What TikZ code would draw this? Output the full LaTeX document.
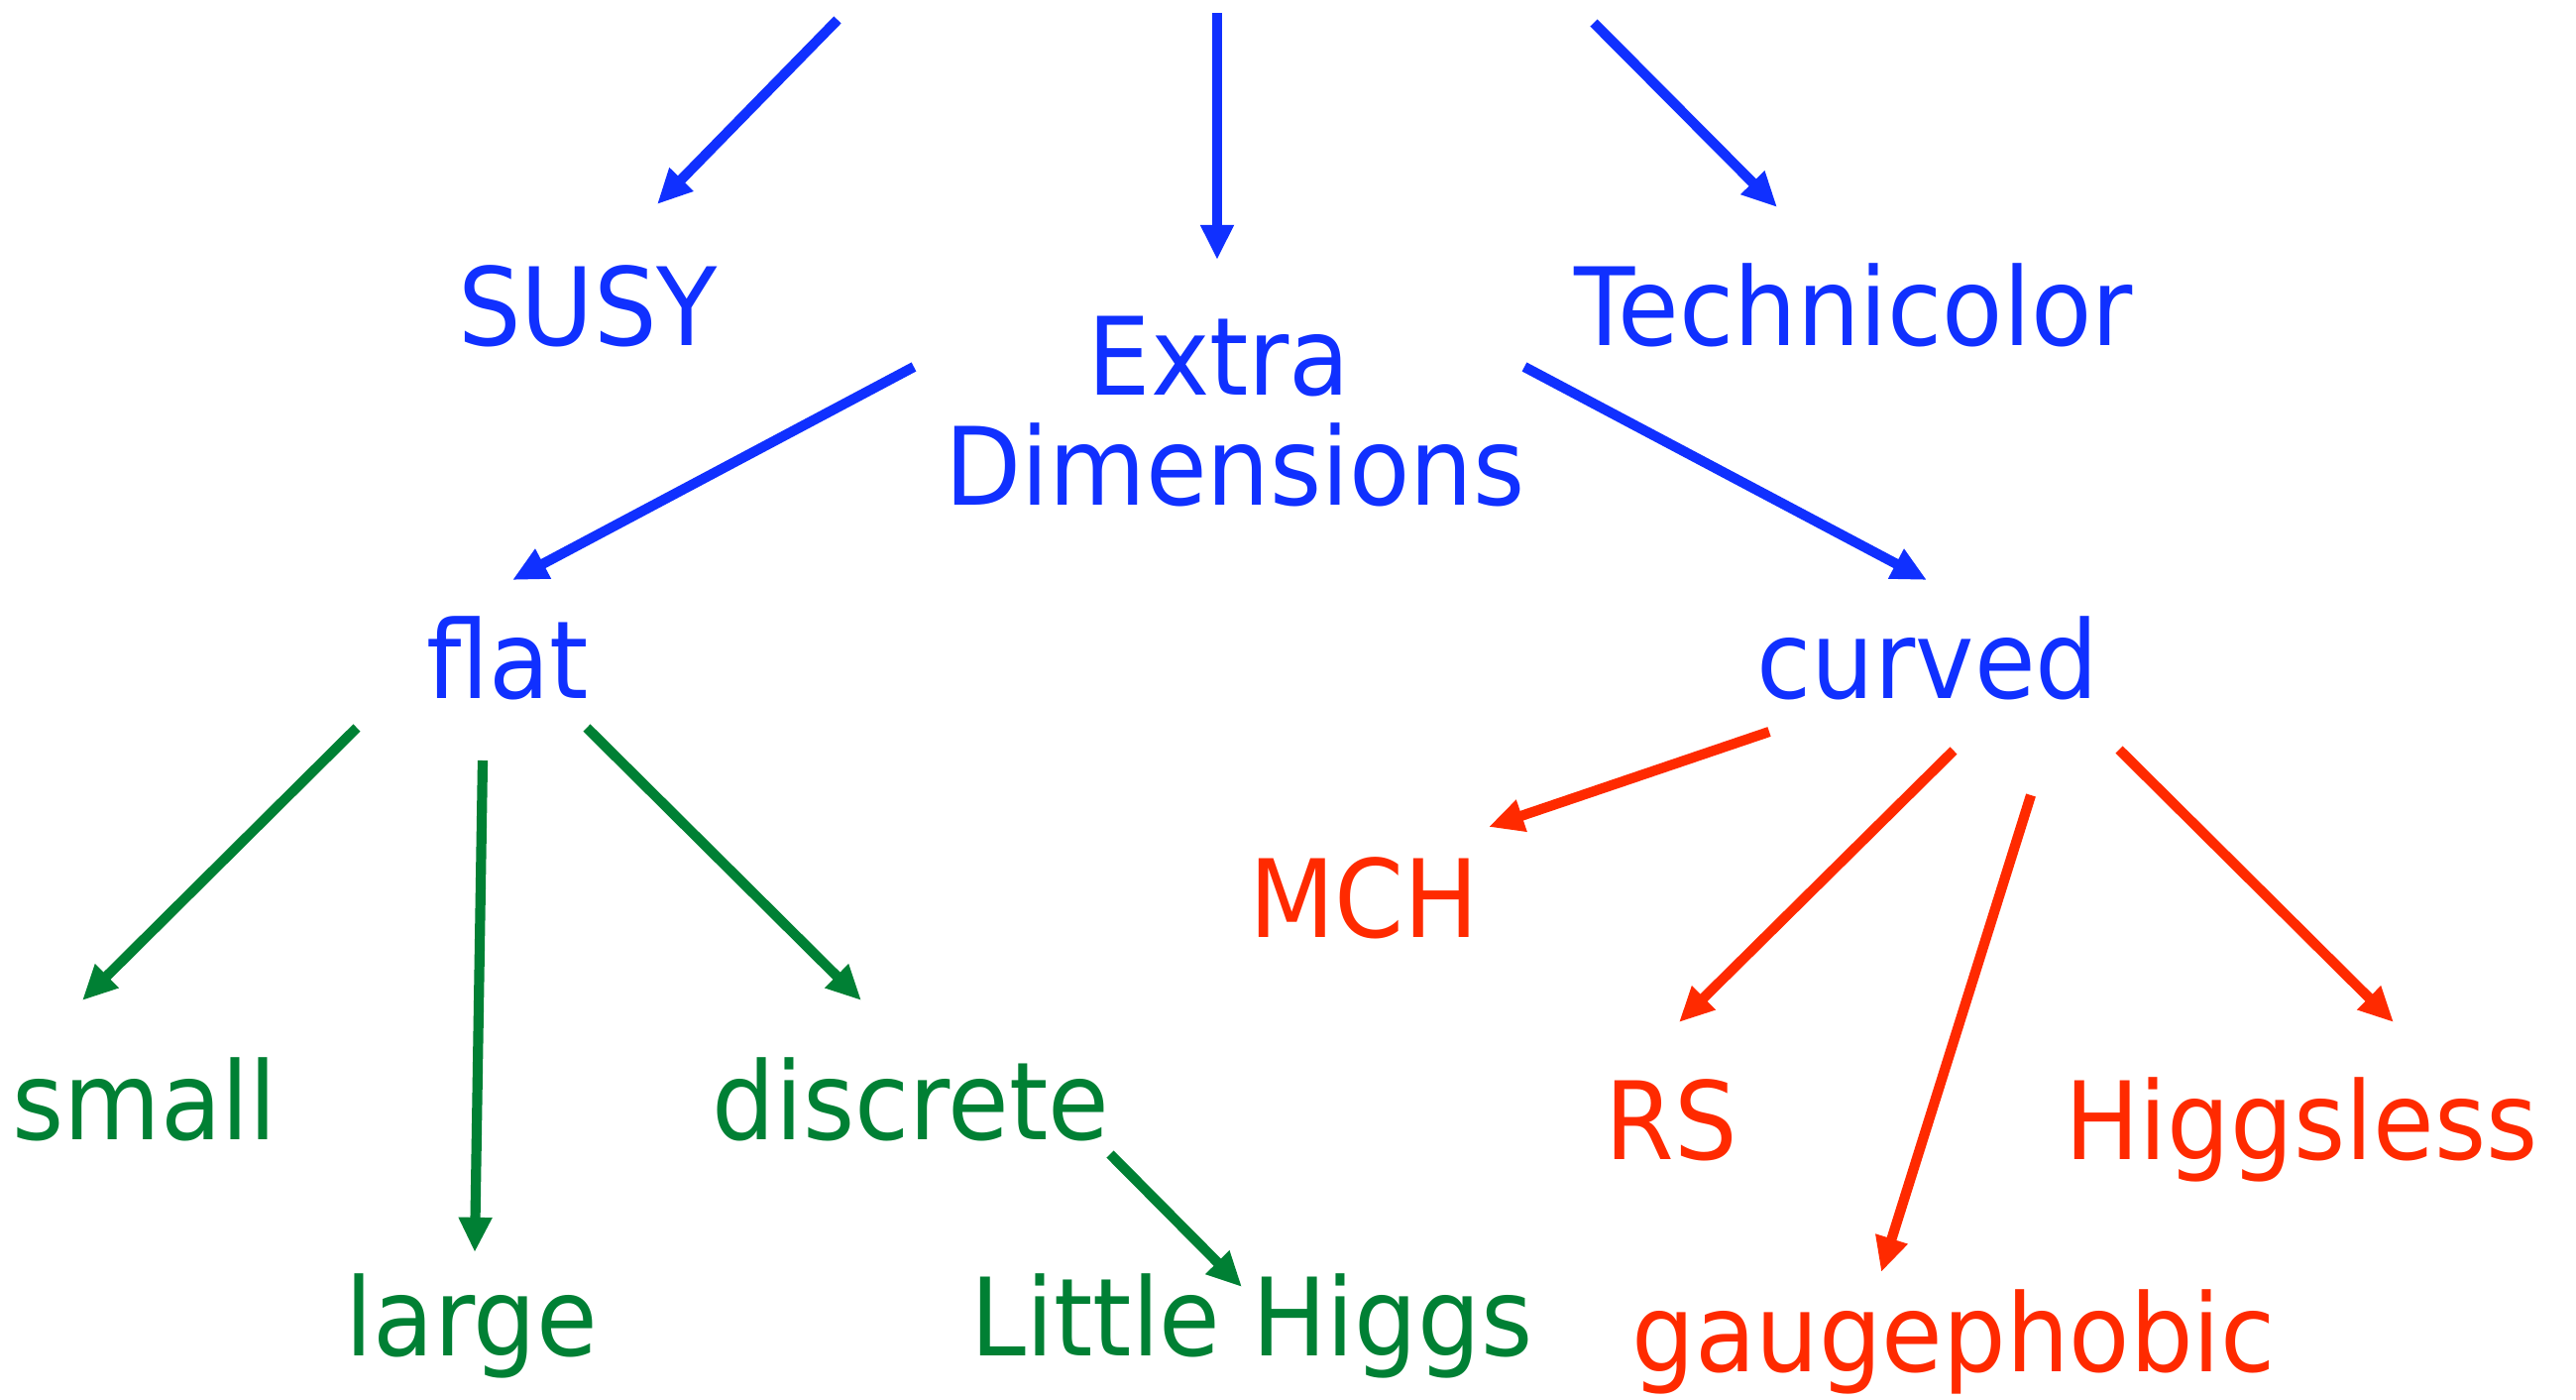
\documentclass[tikz,border=0pt]{standalone}
\usepackage{fontspec}
\setmainfont[FakeStretch=0.92]{DejaVu Sans}
\usetikzlibrary{arrows.meta}
\definecolor{cblue}{RGB}{16,48,255}
\definecolor{cgreen}{RGB}{0,128,52}
\definecolor{cred}{RGB}{255,42,0}
\begin{document}
\begin{tikzpicture}[x=0.01cm,y=-0.01cm,
  lbl/.style={anchor=base, inner sep=0pt, font=\fontsize{31}{34}\selectfont},
  arr/.style={line width=2.9pt, -{Triangle[length=10pt,width=9pt]}}]
\useasboundingbox (0,0) rectangle (2599,1412);
% nodes
\node[lbl,text=cblue] (susy) at (593,348) {SUSY};
\node[lbl,text=cblue] (extra) at (1230,398) {Extra};
\node[lbl,text=cblue] (dim) at (1246,509) {Dimensions};
\node[lbl,text=cblue] (tc) at (1870,348) {Technicolor};
\node[lbl,text=cblue] (flat) at (512,704) {flat};
\node[lbl,text=cblue] (curved) at (1945,704) {curved};
\node[lbl,text=cred] (mch) at (1376,945) {MCH};
\node[lbl,text=cgreen] (small) at (146,1149) {small};
\node[lbl,text=cgreen] (discrete) at (919,1149) {discrete};
\node[lbl,text=cred] (rs) at (1686,1169) {RS};
\node[lbl,text=cred] (hl) at (2322,1169) {Higgsless};
\node[lbl,text=cgreen] (large) at (476,1367) {large};
\node[lbl,text=cgreen] (lh) at (1263,1367) {Little Higgs};
\node[lbl,text=cred] (gp) at (1971,1383) {gaugephobic};
% connector end points
\coordinate (top1) at (845,20);   \coordinate (susy-in) at (663,206);
\coordinate (top2) at (1228,13);  \coordinate (extra-in) at (1228,262);
\coordinate (top3) at (1608,23);  \coordinate (tc-in) at (1793,209);
\coordinate (ed-l) at (922,370);  \coordinate (flat-in) at (517,585);
\coordinate (ed-r) at (1538,370); \coordinate (curved-in) at (1944,585);
\coordinate (flat-l) at (360,734); \coordinate (small-in) at (83,1009);
\coordinate (flat-m) at (487,767); \coordinate (large-in) at (479,1263);
\coordinate (flat-r) at (592,734); \coordinate (discrete-in) at (869,1009);
\coordinate (disc-out) at (1120,1164); \coordinate (lh-in) at (1253,1298);
\coordinate (cur-1) at (1785,738); \coordinate (mch-in) at (1502,834);
\coordinate (cur-2) at (1971,757); \coordinate (rs-in) at (1694,1031);
\coordinate (cur-3) at (2049,802); \coordinate (gp-in) at (1898,1283);
\coordinate (cur-4) at (2138,756); \coordinate (hl-in) at (2415,1031);
% connectors
\draw[arr,cblue] (top1) -- (susy-in);
\draw[arr,cblue] (top2) -- (extra-in);
\draw[arr,cblue] (top3) -- (tc-in);
\draw[arr,cblue] (ed-l) -- (flat-in);
\draw[arr,cblue] (ed-r) -- (curved-in);
\draw[arr,cgreen] (flat-l) -- (small-in);
\draw[arr,cgreen] (flat-m) -- (large-in);
\draw[arr,cgreen] (flat-r) -- (discrete-in);
\draw[arr,cgreen] (disc-out) -- (lh-in);
\draw[arr,cred] (cur-1) -- (mch-in);
\draw[arr,cred] (cur-2) -- (rs-in);
\draw[arr,cred] (cur-3) -- (gp-in);
\draw[arr,cred] (cur-4) -- (hl-in);
\end{tikzpicture}
\end{document}
